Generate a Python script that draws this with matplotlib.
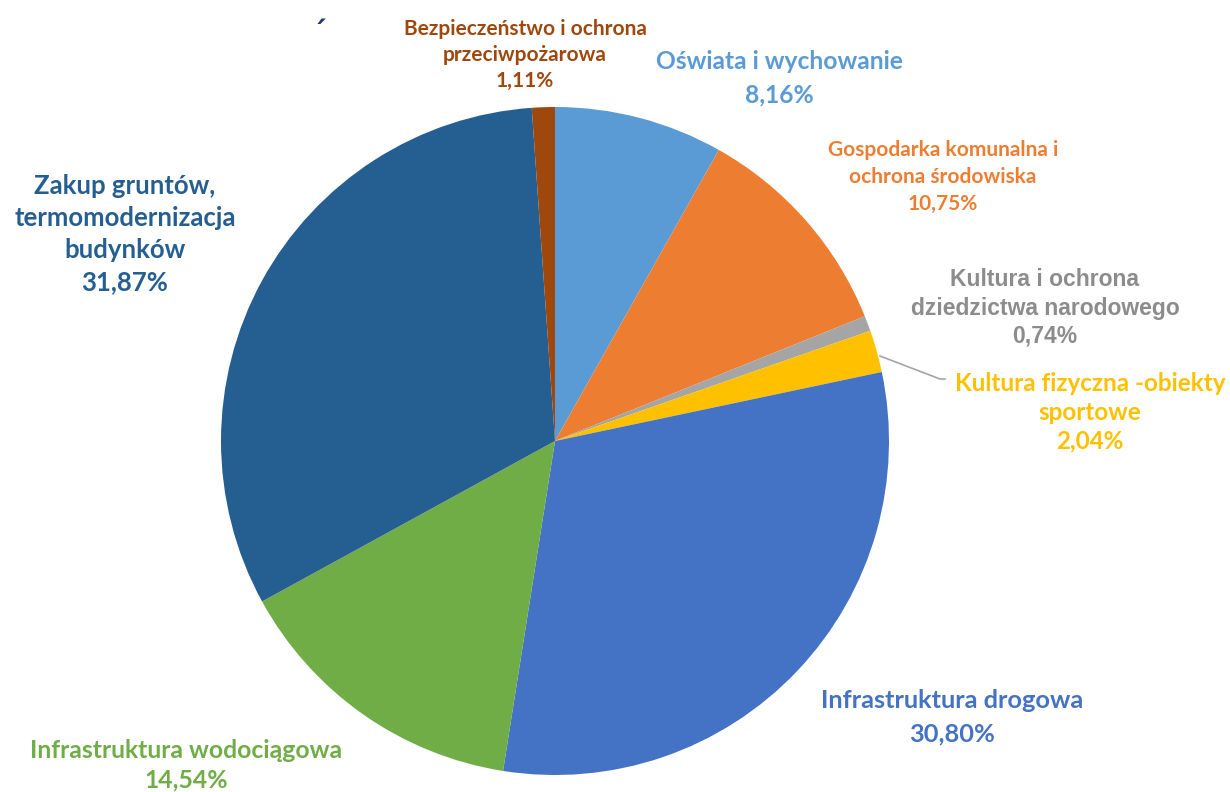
import matplotlib.pyplot as plt

# slices, clockwise from 12 o'clock
labels = ['Oświata i wychowanie', 'Gospodarka komunalna i\nochrona środowiska',
          'Kultura i ochrona\ndziedzictwa narodowego', 'Kultura fizyczna -obiekty\nsportowe',
          'Infrastruktura drogowa', 'Infrastruktura wodociągowa',
          'Zakup gruntów,\ntermomodernizacja\nbudynków', 'Bezpieczeństwo i ochrona\nprzeciwpożarowa']
shares = [8.16, 10.75, 0.74, 2.04, 30.80, 14.54, 31.87, 1.11]
pct_text = ['8,16%', '10,75%', '0,74%', '2,04%', '30,80%', '14,54%', '31,87%', '1,11%']

colors = ['#5B9BD5', '#ED7D31', '#A5A5A5', '#FFC000', '#4472C4', '#70AD47', '#255E91', '#9E480E']
txt_colors = ['#5B9BD5', '#ED7D31', '#8C8C8C', '#FFC000', '#4472C4', '#70AD47', '#255E91', '#9E480E']

W, H = 1230, 792
fig = plt.figure(figsize=(W / 100, H / 100), dpi=100)
ax = fig.add_axes([0, 0, 1, 1])

cx, cy, r = 555, H - 441, 334
ax.pie(shares, colors=colors, startangle=90, counterclock=False,
       center=(cx, cy), radius=r, frame=True,
       wedgeprops=dict(linewidth=0))
ax.set_xlim(0, W)
ax.set_ylim(0, H)
ax.set_aspect('equal')
ax.axis('off')

# label positions in picture pixels (centre x, centre y) and sizes
lab_pos = [(779, 78), (943, 177), (1045, 308), (1090, 412),
           (952, 717), (186, 765), (125, 234), (525, 55)]
lab_size = [17.7, 15, 16.5, 17.5, 18.3, 17.8, 18.5, 15]
lab_font = ['Lato', 'Lato', 'Liberation Sans', 'Lato', 'Lato', 'Lato', 'Lato', 'Lato']
lab_ls = [1.57, 1.46, 1.29, 1.31, 1.52, 1.33, 1.4, 1.4]

for i in range(len(labels)):
    x, y = lab_pos[i]
    ax.text(x, H - y, labels[i] + '\n' + pct_text[i], ha='center', va='center',
            color=txt_colors[i], fontsize=lab_size[i], fontweight='bold',
            family=lab_font[i], linespacing=lab_ls[i])

# leader line for the small yellow slice
ax.plot([880, 940, 945], [H - 356, H - 379, H - 379], color='#A5A5A5', lw=1.2)

ax.text(319, H - 34, '´', color='#1F3864', fontsize=22, fontweight='bold',
        ha='center', va='center')

fig.savefig('out.png', dpi=100)
